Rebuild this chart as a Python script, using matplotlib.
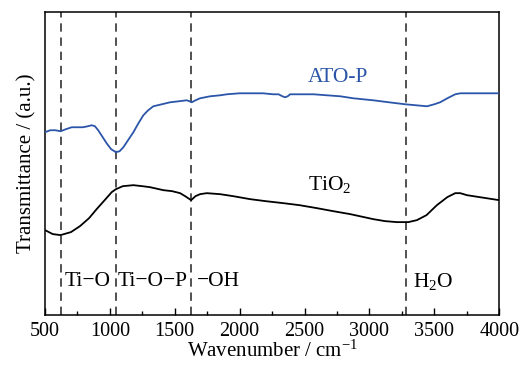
import matplotlib
matplotlib.use("Agg")
import matplotlib.pyplot as plt
from matplotlib.ticker import MultipleLocator

plt.rcParams['font.family'] = ['Liberation Serif', 'DejaVu Serif']
plt.rcParams['mathtext.fontset'] = 'custom'
plt.rcParams['mathtext.rm'] = 'Liberation Serif'
plt.rcParams['mathtext.it'] = 'Liberation Serif:italic'

# ATO-P spectrum (wavenumber, transmittance a.u.)
ato_wn = [500, 540, 580, 621, 660, 706, 750, 793, 830, 860, 885, 910, 940, 975,
          1010, 1047, 1075, 1104, 1140, 1181, 1220, 1258, 1295, 1335, 1400, 1464,
          1530, 1592, 1615, 1631, 1660, 1695, 1772, 1850, 1901, 2000, 2081, 2180,
          2259, 2300, 2330, 2350, 2370, 2389, 2466, 2570, 2672, 2776, 2876, 3029,
          3150, 3276, 3360, 3443, 3500, 3545, 3600, 3661, 3700, 3800, 4000]
ato_t = [183, 185, 185, 184, 186, 188, 188, 188, 189, 190, 189, 185, 179, 172,
         166, 163, 164, 168, 175, 183, 192, 200, 205, 209, 211, 213,
         214, 215, 214, 213, 215, 217, 219, 220, 221, 222, 222, 222,
         221, 221, 219, 218, 219, 221, 221, 221, 220, 219, 217, 215,
         213, 211, 210, 209, 211, 213, 217, 221, 222, 222, 222]

# TiO2 spectrum
tio_wn = [500, 560, 620, 700, 770, 840, 898, 960, 1014, 1047, 1100, 1181, 1250,
          1309, 1412, 1480, 1541, 1580, 1626, 1660, 1695, 1747, 1849, 1950, 2081,
          2200, 2336, 2460, 2595, 2720, 2852, 3029, 3120, 3212, 3300, 3366, 3440,
          3520, 3600, 3661, 3700, 3751, 3850, 4000]
tio_t = [85, 81, 80, 83, 89, 97, 106, 115, 123, 126, 129, 130, 129,
         128, 125, 124, 122, 119, 115, 119, 121, 122, 121, 119, 116,
         114, 112, 110, 107, 104, 101, 96, 94, 93, 93, 95, 100,
         110, 118, 122, 122, 120, 118, 115]

band_pos = [620, 1045, 1625, 3283]
band_labels = ['Ti\u2212O', 'Ti\u2212O\u2212P', '\u2212OH', 'H$_2$O']
band_label_x = [654, 1063, 1672, 3335]

fig = plt.figure(figsize=(5.2, 3.65), dpi=100)
ax = fig.add_axes([0.0865, 0.137, 0.8735, 0.829])

for x in band_pos:
    ax.axvline(x, color='#333333', lw=1.2, ls=(0, (5, 3.5)), zorder=1)

ax.plot(ato_wn, ato_t, color='#2b55a8', lw=1.3, zorder=3)
ax.plot(tio_wn, tio_t, color='black', lw=1.3, zorder=3)

ax.text(2528, 238, 'ATO-P', color='#2b55a8', fontsize=15.5, ha='left', va='center')
ax.text(2528, 131, 'TiO$_2$', color='black', fontsize=15.5, ha='left', va='center')
for lx, lab in zip(band_label_x, band_labels):
    ax.text(lx, 34, lab, fontsize=15.5, ha='left', va='center')

ax.set_xlim(500, 4000)
ax.set_ylim(0, 303)
ax.xaxis.set_major_locator(MultipleLocator(500))
ax.xaxis.set_minor_locator(MultipleLocator(250))
ax.tick_params(axis='x', which='major', direction='in', length=5, width=1,
               labelsize=14.5, pad=5)
ax.tick_params(axis='x', which='minor', direction='in', length=3, width=1)
ax.set_yticks([])
for s in ax.spines.values():
    s.set_linewidth(1.1)

ax.set_xlabel('Wavenumber / cm$^{-1}$', fontsize=15, labelpad=0)
ax.set_ylabel('Transmittance / (a.u.)', fontsize=15, labelpad=6)

fig.savefig('out.png', dpi=100)
